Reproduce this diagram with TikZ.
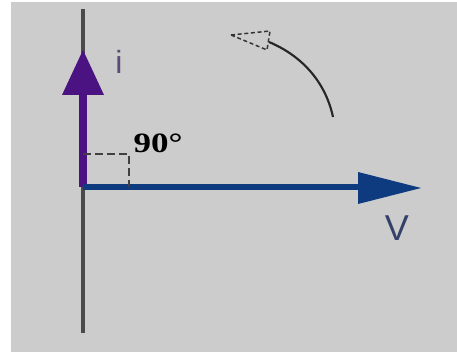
\documentclass[tikz,border=0pt]{standalone}
\usepackage{fontspec}
\setmainfont{Liberation Sans}
\newfontfamily\degfont{Liberation Serif}
\begin{document}
\begin{tikzpicture}[x=0.75pt,y=-0.75pt,
  axisline/.style={draw=axisgray,line width=3pt},
  curr/.style={draw=ipurple,line width=5.5pt},
  volt/.style={draw=vblue,line width=5pt},
  headi/.style={fill=ipurple},
  headv/.style={fill=vblue},
  rightmark/.style={draw=black!75,line width=1.5pt,dash pattern=on 6pt off 3pt},
  rothead/.style={draw=black!80,line width=1.1pt,dash pattern=on 3pt off 2pt}]
\definecolor{bg}{HTML}{CCCCCC}
\definecolor{axisgray}{HTML}{4A4A4A}
\definecolor{ipurple}{HTML}{4B1282}
\definecolor{vblue}{HTML}{0E3A80}
\definecolor{ilab}{HTML}{5A4A78}
\definecolor{vlab}{HTML}{34406A}
\useasboundingbox (0,0) rectangle (457,352);
\fill[white] (0,0) rectangle (457,352);
\fill[bg] (11,2) rectangle (457,352);
% coordinates
\coordinate (top) at (83,9);
\coordinate (bot) at (83,333);
\coordinate (O) at (83,187);
\coordinate (ib) at (83,95);
\coordinate (vb) at (358,187);
% axis
\draw[axisline] (top) -- (bot);
% current arrow
\draw[curr] (O) -- (ib);
\fill[headi] (62,95) -- (104,95) -- (83,50) -- cycle;
% voltage arrow
\draw[volt] (O) -- (vb);
\fill[headv] (358,172) -- (358,204) -- (421,188) -- cycle;
% right angle marker
\coordinate (ra1) at (83,154);
\coordinate (ra2) at (129,154);
\coordinate (ra3) at (129,187);
\draw[rightmark] (ra1) -- (ra2) -- (ra3);
% labels
\node[text=ilab,font=\fontsize{24}{26}\selectfont] (ilabel) at (119,62) {i};
\node[text=vlab,font=\fontsize{27}{29}\selectfont] (vlabel) at (397,228) {V};
\node[font=\degfont\bfseries\fontsize{21}{23}\selectfont,xscale=1.25] (deg) at (158,143) {90°};
% rotation arrow
\coordinate (rs) at (333,117);
\coordinate (re) at (269,42);
\draw[black!85,line width=1.6pt] (rs) .. controls (325,80) and (300,55) .. (re);
\draw[rothead] (231,35) -- (270,31) -- (267,50) -- cycle;
\end{tikzpicture}
\end{document}
